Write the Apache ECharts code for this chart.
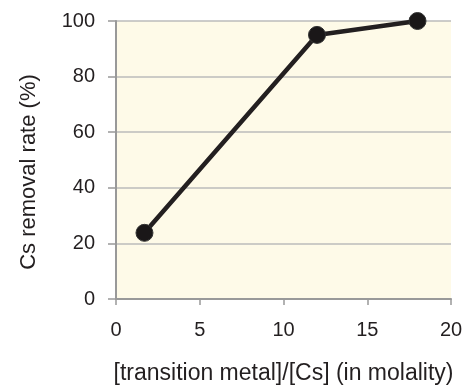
<!DOCTYPE html>
<html><head><meta charset="utf-8">
<script src="https://cdn.jsdelivr.net/npm/echarts@6/dist/echarts.min.js"></script>
<style>html,body{margin:0;padding:0;background:#fff}#c{width:465px;height:385px}</style>
</head><body><div id="c"></div>
<script>
const ratio = [1.7, 12, 18];
const removal = [23.8, 95, 100];
const xTicks = [0, 5, 10, 15, 20];
const yTicks = [0, 20, 40, 60, 80, 100];

const chart = echarts.init(document.getElementById('c'), null, {renderer: 'canvas'});
const font = 'Liberation Sans, Arial, Helvetica, sans-serif';
chart.setOption({
  animation: false,
  grid: {left: 116, right: 14, top: 21, bottom: 86, show: true, backgroundColor: '#FEFAE8', borderWidth: 0, outerBoundsMode: 'none', containLabel: false},
  xAxis: {
    type: 'value', min: xTicks[0], max: xTicks[xTicks.length-1], interval: 5,
    name: '[transition metal]/[Cs] (in molality)', nameLocation: 'middle', nameGap: 63,
    nameTextStyle: {fontFamily: font, fontSize: 23, color: '#231f20'},
    axisLine: {lineStyle: {color: '#999', width: 2}},
    axisTick: {show: true, length: 6, lineStyle: {color: '#999', width: 1.5}},
    axisLabel: {fontFamily: font, fontSize: 20, color: '#231f20', margin: 21},
    splitLine: {show: false}
  },
  yAxis: {
    type: 'value', min: yTicks[0], max: yTicks[yTicks.length-1], interval: 20,
    name: 'Cs removal rate (%)', nameLocation: 'middle', nameGap: 76,
    nameTextStyle: {fontFamily: font, fontSize: 22, color: '#231f20', padding: [0, 24, 0, 0]},
    axisLine: {show: true, lineStyle: {color: '#999', width: 2}},
    axisTick: {show: true, length: 8, lineStyle: {color: '#999', width: 1.5}},
    axisLabel: {fontFamily: font, fontSize: 20, color: '#231f20', margin: 21},
    splitLine: {show: true, lineStyle: {color: '#bbb', width: 1.5}}
  },
  series: [{
    type: 'line',
    data: ratio.map((x, i) => [x, removal[i]]),
    symbol: 'circle', symbolSize: 17,
    lineStyle: {color: '#231f20', width: 4.5},
    itemStyle: {color: '#1a1718', borderColor: '#333', borderWidth: 1}
  }]
});
</script></body></html>
